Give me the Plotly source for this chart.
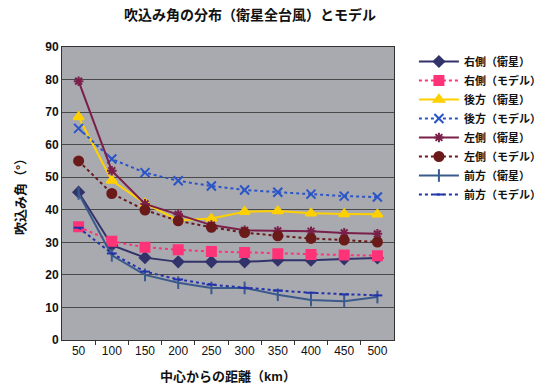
import plotly.graph_objects as go

x = [50, 100, 150, 200, 250, 300, 350, 400, 450, 500]

right_sat = [45.4, 29.1, 25.3, 24.0, 24.0, 24.0, 24.5, 24.5, 24.9, 25.2]
right_mod = [34.8, 30.3, 28.5, 27.7, 27.2, 26.9, 26.5, 26.3, 26.1, 25.9]
back_sat = [68.5, 49.0, 42.0, 36.8, 37.3, 39.4, 39.6, 38.9, 38.7, 38.6]
back_mod = [65.0, 55.6, 51.4, 48.9, 47.3, 46.1, 45.4, 44.8, 44.2, 43.9]
left_sat = [79.5, 52.0, 41.8, 38.6, 35.3, 33.7, 33.5, 33.4, 32.9, 32.6]
left_mod = [55.0, 45.0, 39.9, 36.6, 34.6, 33.0, 32.0, 31.2, 30.7, 30.1]
front_sat = [45.0, 26.0, 20.0, 17.6, 16.0, 16.0, 13.9, 12.3, 11.9, 13.2]
front_mod = [34.5, 26.6, 21.0, 18.6, 17.0, 16.0, 15.2, 14.5, 14.0, 13.7]

series = [
    ("右側（衛星）", right_sat, "#33336b", "solid", "diamond", 8),
    ("右側（モデル）", right_mod, "#ff3377", "dot", "square", 9),
    ("後方（衛星）", back_sat, "#ffd000", "solid", "triangle-up", 9),
    ("後方（モデル）", back_mod, "#2a55c8", "dot", "x-thin-open", 9),
    ("左側（衛星）", left_sat, "#7a1f4a", "solid", "asterisk-open", 8),
    ("左側（モデル）", left_mod, "#6b1a1a", "dot", "circle", 9),
    ("前方（衛星）", front_sat, "#3a5a8c", "solid", "line-ns-open", 9),
    ("前方（モデル）", front_mod, "#2233aa", "dot", "line-ew-open", 7),
]

fig = go.Figure()
for name, ys, color, dash, sym, size in series:
    fig.add_trace(go.Scatter(
        x=x, y=ys, name="<b>" + name + "</b>", mode="lines+markers",
        line=dict(color=color, width=2, dash=dash),
        marker=dict(symbol=sym, size=size, color=color,
                    line=dict(color=color, width=2)),
    ))

font_family = "Liberation Sans, Noto Sans CJK JP, sans-serif"
fig.update_layout(
    width=550, height=387,
    margin=dict(l=54, r=141, t=39, b=55),
    paper_bgcolor="white",
    plot_bgcolor="#a9a9b0",
    font=dict(family=font_family, size=12, color="#111"),
    title=dict(text="<b>吹込み角の分布（衛星全台風）とモデル</b>",
               x=0.44, xanchor="center", y=0.995, yanchor="top",
               font=dict(size=14)),
    legend=dict(x=1.06, xanchor="left", y=1.0, yanchor="top",
                font=dict(size=11), itemwidth=40, tracegroupgap=0,
                bgcolor="rgba(0,0,0,0)"),
    showlegend=True,
)
fig.update_xaxes(
    range=[25, 525], tickvals=x, ticks="",
    tickfont=dict(size=12), showgrid=False, zeroline=False,
    showline=True, linecolor="#333", linewidth=1, mirror=True,
    minor=dict(tickvals=[75, 125, 175, 225, 275, 325, 375, 425, 475],
               ticks="outside", ticklen=4, tickcolor="#333", showgrid=False),
    title=dict(text="<b>中心からの距離（km）</b>", font=dict(size=13), standoff=14),
    tickprefix="<b>", ticksuffix="</b>",
)
fig.update_yaxes(
    range=[0, 90], dtick=10, ticks="",
    tickfont=dict(size=12), showgrid=True, gridcolor="#4a4a4a", gridwidth=1,
    zeroline=False, showline=True, linecolor="#333", linewidth=1, mirror=True,
    title=dict(text="<b>吹込み角（°）</b>", font=dict(size=13), standoff=16),
    tickprefix="<b>", ticksuffix="</b>",
)

fig.write_html("out.html")
